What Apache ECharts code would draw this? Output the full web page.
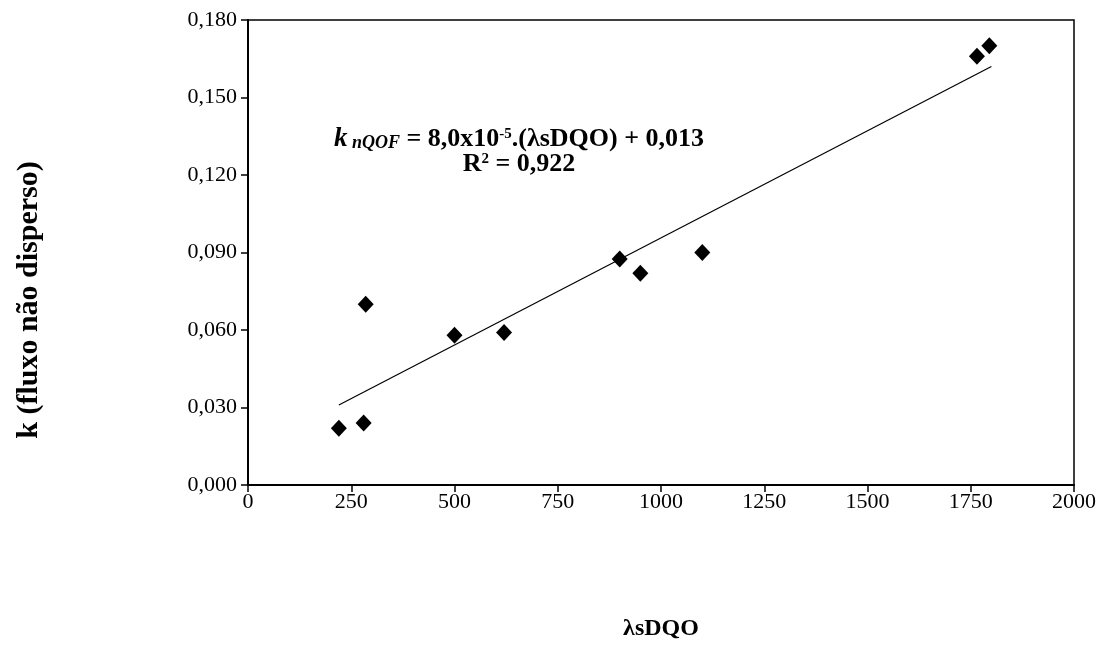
<!DOCTYPE html>
<html>
<head>
<meta charset="utf-8">
<script src="https://cdn.jsdelivr.net/npm/echarts@6/dist/echarts.min.js"></script>
<style>html,body{margin:0;padding:0;background:#fff}#c{width:1108px;height:648px}</style>
</head>
<body>
<div id="c"></div>
<script>
const xValues = [220, 280, 285, 500, 620, 900, 950, 1100, 1765, 1795];
const yValues = [0.022, 0.024, 0.070, 0.058, 0.059, 0.0875, 0.082, 0.090, 0.166, 0.170];
const trendX = [220, 1800];
const trendY = [0.031, 0.162];
const yTicks = ['0,000','0,030','0,060','0,090','0,120','0,150','0,180'];
const xTitle = 'λsDQO';
const yTitle = 'k (fluxo não disperso)';

const font = '"Liberation Serif", "Times New Roman", serif';
const chart = echarts.init(document.getElementById('c'), null, {renderer: 'canvas'});
chart.setOption({
  animation: false,
  backgroundColor: '#fff',
  grid: {left: 248, right: 34, top: 20, bottom: 163, show: true, borderColor: '#000', borderWidth: 1.5},
  xAxis: {
    type: 'value', min: 0, max: 2000, interval: 250,
    axisLine: {show: true, lineStyle: {color: '#000', width: 2}},
    axisTick: {show: true, length: 7, lineStyle: {color: '#000', width: 1.5}},
    splitLine: {show: false},
    axisLabel: {color: '#000', fontFamily: font, fontSize: 22, margin: 6,
      formatter: (v) => String(v)},
    name: xTitle, nameLocation: 'middle', nameGap: 132,
    nameTextStyle: {color: '#000', fontFamily: font, fontSize: 24, fontWeight: 'bold'}
  },
  yAxis: {
    type: 'value', min: 0, max: 0.18, interval: 0.03,
    axisLine: {show: true, lineStyle: {color: '#000', width: 2}},
    axisTick: {show: true, length: 7, lineStyle: {color: '#000', width: 1.5}},
    splitLine: {show: false},
    axisLabel: {color: '#000', fontFamily: font, fontSize: 22, margin: 11,
      formatter: (v) => yTicks[Math.round(v / 0.03)]}
  },
  series: [
    {
      type: 'line', data: trendX.map((x, i) => [x, trendY[i]]),
      symbol: 'none', lineStyle: {color: '#000', width: 1.2}, z: 2
    },
    {
      type: 'scatter', data: xValues.map((x, i) => [x, yValues[i]]),
      symbol: 'diamond', symbolSize: [16, 17], itemStyle: {color: '#000', opacity: 1}, z: 3
    }
  ],
  graphic: [
    {
      type: 'text', x: 519, y: 127,
      style: {
        textAlign: 'center',
        text: '{k|k}{sub| nQOF} {b|= 8,0x10}{sup|-5}{b|.(λsDQO) + 0,013}\n{b|R}{sup|2}{b| = 0,922}',
        font: 'bold 26px ' + font,
        fill: '#000',
        lineHeight: 25,
        rich: {
          k: {fontFamily: font, fontSize: 27, fontWeight: 'bold', fontStyle: 'italic', fill: '#000', lineHeight: 25},
          sub: {fontFamily: font, fontSize: 18, fontWeight: 'bold', fontStyle: 'italic', fill: '#000', verticalAlign: 'bottom', padding: [8, 0, 0, 0], lineHeight: 25},
          b: {fontFamily: font, fontSize: 26, fontWeight: 'bold', fill: '#000', lineHeight: 25},
          sup: {fontFamily: font, fontSize: 15, fontWeight: 'bold', fill: '#000', verticalAlign: 'top', padding: [0, 0, 10, 0], lineHeight: 25}
        }
      }
    },
    {
      type: 'text', x: 29, y: 300, rotation: Math.PI / 2,
      style: {
        text: yTitle, textAlign: 'center', textVerticalAlign: 'middle',
        font: 'bold 30px ' + font, fill: '#000'
      }
    }
  ]
});
</script>
</body>
</html>
